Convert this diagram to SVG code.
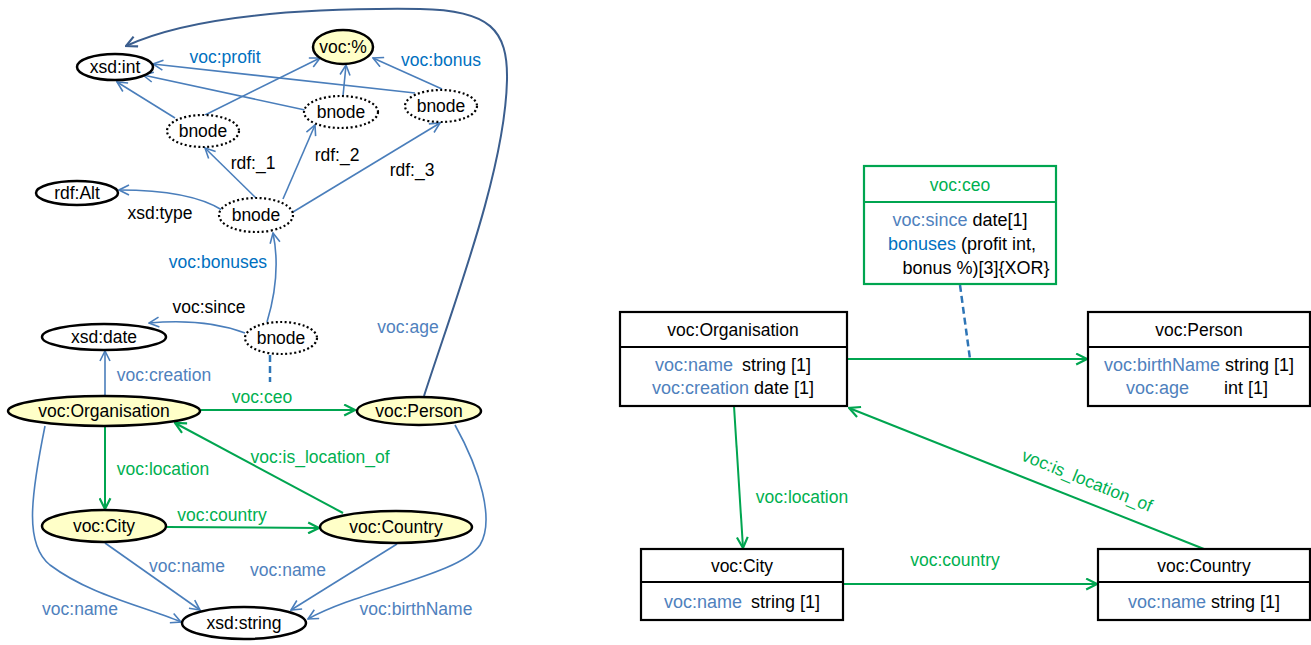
<svg xmlns="http://www.w3.org/2000/svg" width="1311" height="645" viewBox="0 0 1311 645">
<style>
text{font-family:"Liberation Sans",Arial,sans-serif;font-size:17.5px;fill:#000}
.c{text-anchor:middle}
.at{font-size:18px}
.lb{fill:#4F81BD}
.bb{fill:#0070C0}
.gl{fill:#00B050}
.node{fill:#fff;stroke:#000;stroke-width:2.5}
.cls{fill:#FFFFC8;stroke:#000;stroke-width:2.5}
.bn{fill:#fff;stroke:#000;stroke-width:2.2;stroke-dasharray:2 2.5}
.eb{fill:none;stroke:#4A7EBB;stroke-width:1.6;marker-end:url(#ab)}
.ed{fill:none;stroke:#3B5E8E;stroke-width:2;marker-end:url(#ad)}
.eg{fill:none;stroke:#00A550;stroke-width:2;marker-end:url(#ag)}
.dash{fill:none;stroke:#2E75B6;stroke-width:2.5;stroke-dasharray:7 4}
.box{fill:#fff;stroke:#000;stroke-width:2.2}
.gbox{fill:#fff;stroke:#00A550;stroke-width:2.2}
</style>
<defs>
<marker id="ab" viewBox="0 0 12 12" refX="11" refY="6" markerWidth="12" markerHeight="12" markerUnits="userSpaceOnUse" orient="auto"><path d="M1,1 L11,6 L1,11" fill="none" stroke="#4A7EBB" stroke-width="1.6"/></marker>
<marker id="ad" viewBox="0 0 12 12" refX="11" refY="6" markerWidth="13" markerHeight="13" markerUnits="userSpaceOnUse" orient="auto"><path d="M1,1 L11,6 L1,11" fill="none" stroke="#3B5E8E" stroke-width="2"/></marker>
<marker id="ag" viewBox="0 0 12 12" refX="11" refY="6" markerWidth="13" markerHeight="13" markerUnits="userSpaceOnUse" orient="auto"><path d="M1,1 L11,6 L1,11" fill="none" stroke="#00A550" stroke-width="2"/></marker>
</defs>

<g id="connectors">
<line class="eb" x1="175" y1="118" x2="117" y2="82"/>
<line class="eb" x1="205" y1="115" x2="320" y2="58"/>
<line class="eb" x1="305" y1="110" x2="143" y2="75"/>
<line class="eb" x1="343" y1="96" x2="346" y2="65"/>
<line class="eb" x1="415" y1="93" x2="153" y2="64"/>
<line class="eb" x1="442" y1="89" x2="373" y2="58"/>
<line class="eb" x1="256" y1="198" x2="205" y2="148"/>
<line class="eb" x1="283" y1="199" x2="315" y2="125"/>
<line class="eb" x1="293" y1="212" x2="440" y2="123"/>
<path class="eb" d="M222,210 Q190,190 119,190"/>
<path class="eb" d="M267,322 C276,292 279,262 273,233"/>
<path class="eb" d="M245,333 Q205,318 149,323"/>
<line class="dash" x1="270" y1="355" x2="270" y2="382"/>
<line class="eb" x1="105" y1="396" x2="105" y2="351"/>
<line class="eg" x1="201" y1="410" x2="355" y2="410"/>
<path class="ed" d="M424,396 C455,300 505,170 507,80 C508,30 490,10 420,9 C330,8 200,12 126,46"/>
<line class="eg" x1="105" y1="426" x2="105" y2="509"/>
<line class="eg" x1="343" y1="513" x2="175" y2="423"/>
<line class="eg" x1="167" y1="527" x2="319" y2="528"/>
<line class="eb" x1="105" y1="543" x2="200" y2="610"/>
<line class="eb" x1="397" y1="544" x2="291" y2="610"/>
<path class="eb" d="M45,426 C30,500 25,545 50,565 C90,595 140,605 181,622"/>
<path class="eb" d="M455,425 C480,470 495,520 480,545 C460,575 360,590 308,619"/>
<line class="dash" x1="960" y1="285" x2="970" y2="359"/>
<line class="eg" x1="847" y1="359" x2="1087" y2="359"/>
<line class="eg" x1="734" y1="406" x2="743" y2="548"/>
<line class="eg" x1="843" y1="584" x2="1097" y2="584"/>
<line class="eg" x1="1204" y1="549" x2="849" y2="408"/>
</g>

<g id="edge-labels">
<text class="c bb" x="225" y="63">voc:profit</text>
<text class="c bb" x="441" y="66">voc:bonus</text>
<text class="c" x="253" y="169">rdf:_1</text>
<text class="c" x="337" y="161">rdf:_2</text>
<text class="c" x="412" y="176">rdf:_3</text>
<text class="c" x="160" y="219">xsd:type</text>
<text class="c bb" x="218" y="268">voc:bonuses</text>
<text class="c" x="209" y="313">voc:since</text>
<text class="c lb" x="164" y="381">voc:creation</text>
<text class="c gl" x="262" y="403">voc:ceo</text>
<text class="c lb" x="408" y="333">voc:age</text>
<text class="c gl" x="163" y="475">voc:location</text>
<text class="c gl" x="320" y="463">voc:is_location_of</text>
<text class="c gl" x="222" y="521">voc:country</text>
<text class="c lb" x="187" y="572">voc:name</text>
<text class="c lb" x="288" y="576">voc:name</text>
<text class="c lb" x="80" y="615">voc:name</text>
<text class="c lb" x="416" y="615">voc:birthName</text>
<text class="c gl" x="802" y="503">voc:location</text>
<text class="c gl" x="955" y="566">voc:country</text>
<text class="c gl" transform="translate(1085,486) rotate(22)" x="0" y="0">voc:is_location_of</text>
</g>

<g id="n-xsd-int"><ellipse class="node" cx="115" cy="67" rx="38" ry="13"/><text class="c" x="115" y="73">xsd:int</text></g>
<g id="n-voc-pct"><ellipse class="cls" cx="343" cy="47" rx="30" ry="17"/><text class="c" x="343" y="53">voc:%</text></g>
<g id="n-bnode1"><ellipse class="bn" cx="203" cy="131" rx="36" ry="16"/><text class="c" x="203" y="137">bnode</text></g>
<g id="n-bnode2"><ellipse class="bn" cx="341" cy="112" rx="37" ry="16"/><text class="c" x="341" y="118">bnode</text></g>
<g id="n-bnode3"><ellipse class="bn" cx="441" cy="106" rx="36" ry="16"/><text class="c" x="441" y="112">bnode</text></g>
<g id="n-rdf-alt"><ellipse class="node" cx="77" cy="193" rx="41" ry="12"/><text class="c" x="77" y="199">rdf:Alt</text></g>
<g id="n-bnode-alt"><ellipse class="bn" cx="256" cy="215" rx="37" ry="17"/><text class="c" x="256" y="221">bnode</text></g>
<g id="n-bnode-ceo"><ellipse class="bn" cx="281" cy="338" rx="36" ry="16"/><text class="c" x="281" y="344">bnode</text></g>
<g id="n-xsd-date"><ellipse class="node" cx="104" cy="337" rx="62" ry="13"/><text class="c" x="104" y="343">xsd:date</text></g>
<g id="n-organisation"><ellipse class="cls" cx="104" cy="411" rx="96" ry="15"/><text class="c" x="104" y="417">voc:Organisation</text></g>
<g id="n-person"><ellipse class="cls" cx="419" cy="411" rx="62" ry="14"/><text class="c" x="419" y="417">voc:Person</text></g>
<g id="n-city"><ellipse class="cls" cx="104" cy="526" rx="62" ry="16"/><text class="c" x="104" y="532">voc:City</text></g>
<g id="n-country"><ellipse class="cls" cx="396" cy="527" rx="76" ry="16"/><text class="c" x="396" y="533">voc:Country</text></g>
<g id="n-xsd-string"><ellipse class="node" cx="244" cy="623" rx="62" ry="16"/><text class="c" x="244" y="629">xsd:string</text></g>

<g id="u-ceo">
<rect class="gbox" x="864" y="166" width="192" height="118"/>
<line x1="864" y1="202" x2="1056" y2="202" stroke="#00A550" stroke-width="2.2"/>
<text class="c gl" x="960" y="191">voc:ceo</text>
<text class="c at" x="960" y="226"><tspan class="lb">voc:since</tspan> date[1]</text>
<text class="c at" x="962" y="250"><tspan class="bb">bonuses</tspan> (profit int,</text>
<text class="c at" x="976" y="274">bonus %)[3]{XOR}</text>
</g>
<g id="u-organisation">
<rect class="box" x="620" y="312" width="227" height="94"/>
<line x1="620" y1="347" x2="847" y2="347" stroke="#000" stroke-width="2.2"/>
<text class="c" x="733" y="336">voc:Organisation</text>
<text class="c at" x="733" y="371"><tspan class="lb">voc:name</tspan><tspan dx="9">string [1]</tspan></text>
<text class="c at" x="733" y="394"><tspan class="lb">voc:creation</tspan> date [1]</text>
</g>
<g id="u-person">
<rect class="box" x="1088" y="312" width="222" height="94"/>
<line x1="1088" y1="347" x2="1310" y2="347" stroke="#000" stroke-width="2.2"/>
<text class="c" x="1199" y="336">voc:Person</text>
<text class="c at" x="1199" y="371"><tspan class="lb">voc:birthName</tspan> string [1]</text>
<text class="lb at" x="1126" y="394">voc:age</text>
<text class="at" x="1224" y="394">int [1]</text>
</g>
<g id="u-city">
<rect class="box" x="641" y="549" width="202" height="71"/>
<line x1="641" y1="582" x2="843" y2="582" stroke="#000" stroke-width="2.2"/>
<text class="c" x="742" y="572">voc:City</text>
<text class="c at" x="742" y="608"><tspan class="lb">voc:name</tspan><tspan dx="9">string [1]</tspan></text>
</g>
<g id="u-country">
<rect class="box" x="1098" y="549" width="212" height="71"/>
<line x1="1098" y1="582" x2="1310" y2="582" stroke="#000" stroke-width="2.2"/>
<text class="c" x="1204" y="572">voc:Country</text>
<text class="c at" x="1204" y="608"><tspan class="lb">voc:name</tspan> string [1]</text>
</g>
</svg>
